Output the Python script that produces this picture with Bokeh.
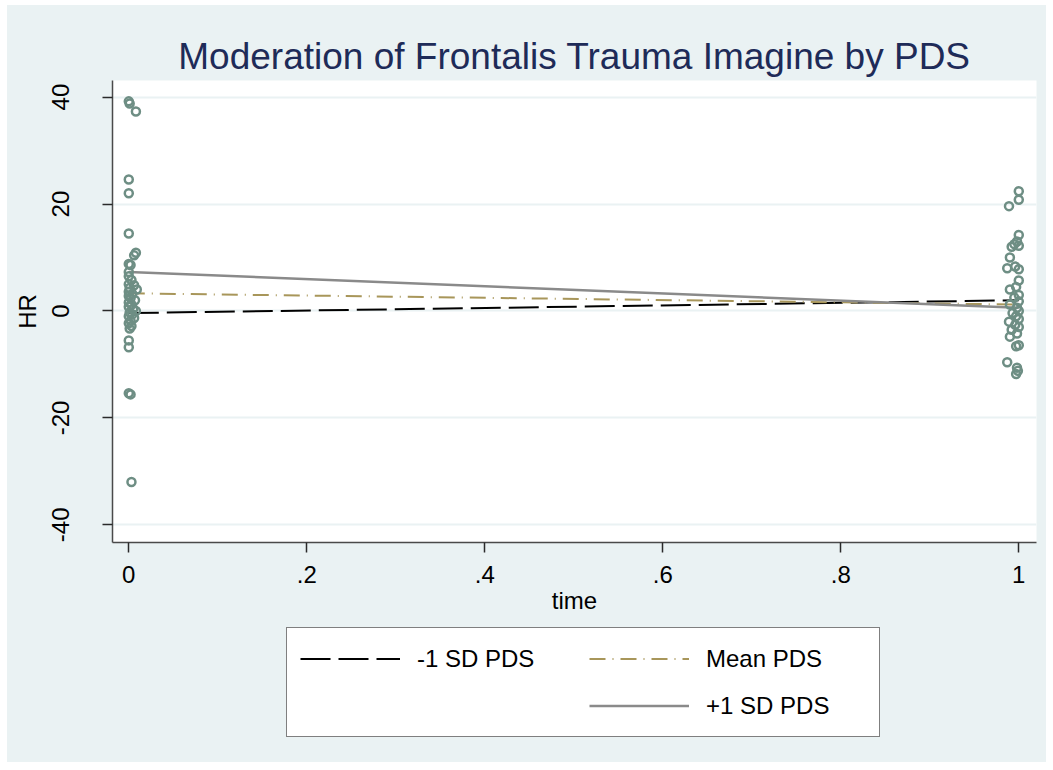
from bokeh.plotting import figure
from bokeh.layouts import column
from bokeh.models import FixedTicker, Legend, LegendItem, Range1d, ColumnDataSource
from bokeh.embed import file_html
from bokeh.resources import INLINE

# ---- data ----
title_text = "Moderation of Frontalis Trauma Imagine by PDS"
x_label = "time"
y_label = "HR"

x_ticks = [0, 0.2, 0.4, 0.6, 0.8, 1.0]
x_tick_labels = ["0", ".2", ".4", ".6", ".8", "1"]
y_ticks = [-40, -20, 0, 20, 40]
y_tick_labels = ["-40", "-20", "0", "20", "40"]

series_names = ["-1 SD PDS", "Mean PDS", "+1 SD PDS"]
line_time = [0, 1]
low_sd = [-0.4, 2.0]
mean_pds = [3.3, 1.2]
high_sd = [7.3, 0.6]

obs_time = [
    0.000, 0.001, 0.008, 0.000, 0.000, 0.000, 0.008, 0.006, 0.000, 0.002,
    0.000, 0.000, 0.003, 0.000, 0.006, 0.001, 0.009, 0.000, 0.004, 0.000,
    0.002, 0.007, 0.000, 0.003, 0.000, 0.005, 0.008, 0.001, 0.004, 0.000,
    0.006, 0.002, 0.000, 0.003, 0.001, 0.000, 0.000, 0.000, 0.002, 0.003,
    1.000, 1.000, 0.989, 1.000, 0.998, 0.995, 0.992, 1.000, 0.990, 0.987,
    0.996, 1.000, 1.000, 0.997, 0.990, 1.000, 0.995, 1.000, 0.990, 0.998,
    1.000, 0.993, 0.997, 1.000, 0.989, 0.996, 1.000, 0.992, 0.998, 0.990,
    1.000, 0.997, 0.987, 0.998, 0.999, 0.997,
]
obs_hr = [
    39.2, 38.8, 37.3, 24.6, 22.0, 14.5, 10.9, 10.4, 8.8, 8.6,
    7.3, 6.5, 5.8, 5.0, 4.8, 4.3, 4.0, 3.6, 3.2, 2.8,
    2.4, 2.0, 1.6, 1.2, 0.8, 0.4, 0.0, -0.3, -0.6, -1.0,
    -1.3, -1.8, -2.3, -2.8, -3.3, -5.5, -6.8, -15.4, -15.6, -32.0,
    22.4, 20.8, 19.6, 14.2, 13.0, 12.5, 12.0, 12.2, 10.0, 8.0,
    8.3, 7.8, 5.7, 4.5, 4.0, 3.0, 2.5, 1.8, 1.2, 0.6,
    0.0, -0.4, -1.0, -1.5, -2.0, -2.6, -3.0, -3.5, -4.2, -4.8,
    -6.4, -6.6, -9.6, -10.6, -11.2, -11.8,
]

# ---- styling ----
BG = "#EAF2F3"
FONT = "Liberation Sans"
LOW_STYLE = dict(line_color="black", line_width=2, line_dash="30 8")
MEAN_STYLE = dict(line_color="#A8965A", line_width=2, line_dash="16 7 1 7")
HIGH_STYLE = dict(line_color="#8A8A8A", line_width=2.5)

p = figure(
    width=1039, height=617,
    output_backend="svg", toolbar_location=None,
    x_range=Range1d(-0.0183, 1.0199), y_range=Range1d(-43.3, 43.1),
    min_border_left=105, min_border_right=10, min_border_top=75, min_border_bottom=80,
    background_fill_color="white", border_fill_color=BG,
    outline_line_color=None,
)

p.title.text = title_text
p.title.align = "center"
p.title.text_font = FONT
p.title.text_font_size = "37px"
p.title.text_font_style = "normal"
p.title.text_color = "#1E2B58"
p.title.standoff = 7

# axes
for ax in (p.xaxis[0], p.yaxis[0]):
    ax.axis_line_color = "#4A4A4A"
    ax.axis_line_width = 1.5
    ax.major_tick_line_color = "#2A2A2A"
    ax.major_tick_line_width = 1.5
    ax.major_tick_out = 10
    ax.major_tick_in = 0
    ax.minor_tick_line_color = None
    ax.major_label_text_font = FONT
    ax.major_label_text_font_size = "24px"
    ax.major_label_text_color = "black"
    ax.axis_label_text_font = FONT
    ax.axis_label_text_font_size = "24px"
    ax.axis_label_text_font_style = "normal"
    ax.axis_label_text_color = "black"

p.xaxis.ticker = FixedTicker(ticks=x_ticks)
p.xaxis.major_label_overrides = {t: l for t, l in zip(x_ticks, x_tick_labels)}
p.xaxis.axis_label = x_label
p.xaxis.major_label_standoff = 13
p.xaxis.axis_label_standoff = 1

p.yaxis.ticker = FixedTicker(ticks=y_ticks)
p.yaxis.major_label_overrides = {t: l for t, l in zip(y_ticks, y_tick_labels)}
p.yaxis.major_label_orientation = "vertical"
p.yaxis.axis_label = y_label
p.yaxis.major_label_standoff = 33
p.yaxis.axis_label_standoff = 9

p.xgrid.grid_line_color = None
p.ygrid.grid_line_color = BG
p.ygrid.grid_line_width = 2

# fitted lines
p.line(line_time, low_sd, **LOW_STYLE)
p.line(line_time, mean_pds, **MEAN_STYLE)
p.line(line_time, high_sd, **HIGH_STYLE)

# observations
src = ColumnDataSource(dict(t=obs_time, hr=obs_hr))
p.scatter("t", "hr", source=src, marker="circle", size=8,
          fill_color=None, line_color="#6E8E84", line_width=2.5)

# ---- legend strip (separate figure below the plot) ----
lf = figure(
    width=1039, height=140,
    output_backend="svg", toolbar_location=None,
    x_range=Range1d(10, 11), y_range=Range1d(10, 11),
    x_axis_location=None, y_axis_location=None,
    min_border=0, min_border_left=0, min_border_right=0,
    min_border_top=0, min_border_bottom=0,
    background_fill_color=BG, border_fill_color=BG,
    outline_line_color=None,
)
lf.grid.visible = False
# legend glyph sources (these lie outside the strip's ranges, so only the key shows)
l_low = lf.line(line_time, low_sd, **LOW_STYLE)
l_mean = lf.line(line_time, mean_pds, **MEAN_STYLE)
l_high = lf.line(line_time, high_sd, **HIGH_STYLE)
l_blank = lf.line(line_time, low_sd, line_alpha=0)

legend = Legend(
    items=[
        LegendItem(label=series_names[0], renderers=[l_low]),
        LegendItem(label=series_names[1], renderers=[l_mean]),
        LegendItem(label=" ", renderers=[l_blank]),
        LegendItem(label=series_names[2], renderers=[l_high]),
    ],
    orientation="horizontal", ncols=2,
    location=(174, 25),
    glyph_width=100, glyph_height=35, label_height=35, label_width=160,
    label_standoff=17, spacing=12, padding=13, margin=0,
    label_text_font=FONT, label_text_font_size="24px", label_text_color="black",
    border_line_color="black", border_line_width=1.2,
    background_fill_color="white", background_fill_alpha=1.0,
)
lf.add_layout(legend, "center")

layout = column(p, lf, spacing=0)
layout.margin = (5, 0, 0, 7)
layout.styles = {"background-color": BG}
open("out.html", "w").write(file_html(layout, INLINE))
